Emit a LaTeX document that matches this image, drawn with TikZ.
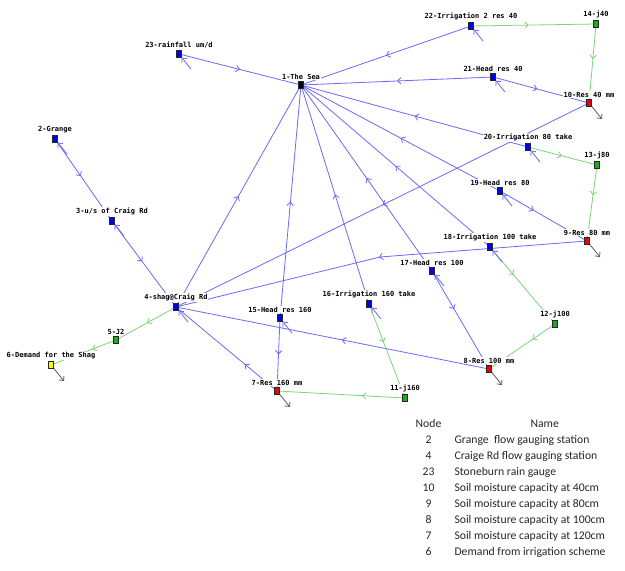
\documentclass[tikz,border=0pt]{standalone}
\usepackage{fontspec}
\setmonofont{DejaVu Sans Mono}
\newfontfamily\legfont{Carlito}
\usetikzlibrary{arrows.meta,decorations.markings,backgrounds,matrix}

\definecolor{linkblue}{RGB}{105,105,250}
\definecolor{linkgreen}{RGB}{120,215,120}
\definecolor{nodeblue}{RGB}{0,0,235}
\definecolor{nodegreen}{RGB}{30,170,30}
\definecolor{nodered}{RGB}{235,0,0}
\definecolor{nodeyellow}{RGB}{255,255,0}

\tikzset{
  site/.style={draw=black!85, line width=0.6pt, inner sep=0pt,
    minimum width=5pt, minimum height=6.5pt, fill=#1},
  site/.default=nodeblue,
  lbl/.style={font=\fontsize{7}{8}\selectfont\ttfamily\bfseries,
    fill=white, inner sep=0.6pt},
  barb/.tip={Straight Barb[length=3.5pt,width=6.5pt]},
  blueflow/.style={linkblue, line width=0.8pt, postaction={decorate},
    decoration={markings, mark=at position #1 with {\arrow{barb}}}},
  blueflow/.default=0.5,
  greenflow/.style={blueflow=#1, linkgreen},
  greenflow/.default=0.5,
  inflow/.style={linkblue, line width=0.8pt, -barb},
  outflow/.style={black!65, line width=0.8pt, -barb}
}

\def\Legend{
    \matrix (legend)
    [matrix of nodes,
    ampersand replacement=\&,
    anchor=north west,
    column sep={12pt},
    row sep={4pt},
    nodes={inner sep=0pt, text height=9pt, text depth=3pt, text=black!85,
      font=\legfont\fontsize{11.7}{14}\selectfont},
    column 1/.style={nodes={anchor=base, minimum width=28pt}},
    column 2/.style={nodes={anchor=base west}}]
    at (411,415)
    {
     Node \& |[xshift=76pt]| Name \\
     2 \& Grange~ flow gauging station \\
     4 \& Craige Rd flow gauging station \\
     23 \& Stoneburn rain gauge \\
     10 \& Soil moisture capacity at 40cm \\
     9 \& Soil moisture capacity at 80cm \\
     8 \& Soil moisture capacity at 100cm \\
     7 \& Soil moisture capacity at 120cm \\
     6 \& Demand from irrigation scheme \\
};
}

\begin{document}
\begin{tikzpicture}[x=1pt, y=-1pt, label distance=1.5pt]
    \useasboundingbox (0,0) rectangle (625,571);

    % sites
    \node[site=black, label={[lbl]above:1-The Sea}] (n1) at (301,85) {};
    \node[site, label={[lbl]above:2-Grange}] (n2) at (55,139) {};
    \node[site, label={[lbl]above:3-u/s of Craig Rd}] (n3) at (112,221) {};
    \node[site, label={[lbl]above:4-shag@Craig Rd}] (n4) at (176,307) {};
    \node[site=nodegreen, label={[lbl]above:5-J2}] (n5) at (116,340) {};
    \node[site=nodeyellow, label={[lbl]above:6-Demand for the Shag}] (n6) at (51,365) {};
    \node[site=nodered, label={[lbl]above:7-Res 160 mm}] (n7) at (277,391) {};
    \node[site=nodered, label={[lbl]above:8-Res 100 mm}] (n8) at (489,369) {};
    \node[site=nodered, label={[lbl]above:9-Res 80 mm}] (n9) at (587,241) {};
    \node[site=nodered, label={[lbl]above:10-Res 40 mm}] (n10) at (589,103) {};
    \node[site=nodegreen, label={[lbl]above:11-j160}] (n11) at (405,398) {};
    \node[site=nodegreen, label={[lbl]above:12-j100}] (n12) at (555,324) {};
    \node[site=nodegreen, label={[lbl]above:13-j80}] (n13) at (597,165) {};
    \node[site=nodegreen, label={[lbl]above:14-j40}] (n14) at (596,24) {};
    \node[site, label={[lbl]above:15-Head res 160}] (n15) at (280,318) {};
    \node[site, label={[lbl]above:16-Irrigation 160 take}] (n16) at (369,304) {};
    \node[site, label={[lbl]above:17-Head res 100}] (n17) at (432,271) {};
    \node[site, label={[lbl]above:18-Irrigation 100 take}] (n18) at (490,247) {};
    \node[site, label={[lbl]above:19-Head res 80}] (n19) at (500,191) {};
    \node[site, label={[lbl]above:20-Irrigation 80 take}] (n20) at (528,147) {};
    \node[site, label={[lbl]above:21-Head res 40}] (n21) at (493,77) {};
    \node[site, label={[lbl]above:22-Irrigation 2 res 40}] (n22) at (471,26) {};
    \node[site, label={[lbl]above:23-rainfall um/d}] (n23) at (179,54) {};
    \coordinate (bend94) at (380,257);

    \Legend

    \begin{pgfonlayer}{background}
    % losses to the sea
    \foreach \n in {23,22,21,20,19,18,17,16,15,4}
        \draw[blueflow] (n\n) -- (n1);

    % river and runoff
    \draw[blueflow=0.45] (n2) -- (n3);
    \draw[blueflow=0.47] (n3) -- (n4);
    \draw[blueflow=0.46] (n21) -- (n10);
    \draw[blueflow] (n10) -- (n4);
    \draw[blueflow=0.38] (n19) -- (n9);
    \draw[blueflow] (n9) -- (bend94) -- (n4);
    \draw[blueflow=0.38] (n17) -- (n8);
    \draw[blueflow=0.47] (n8) -- (n4);
    \draw[blueflow] (n15) -- (n7);
    \draw[blueflow=0.31] (n7) -- (n4);

    % carriers
    \draw[greenflow=0.46] (n22) -- (n14);
    \draw[greenflow=0.44] (n14) -- (n10);
    \draw[greenflow=0.49] (n20) -- (n13);
    \draw[greenflow=0.39] (n13) -- (n9);
    \draw[greenflow=0.35] (n18) -- (n12);
    \draw[greenflow=0.33] (n12) -- (n8);
    \draw[greenflow=0.4] (n16) -- (n11);
    \draw[greenflow=0.33] (n11) -- (n7);
    \draw[greenflow=0.48] (n4) -- (n5);
    \draw[greenflow=0.35] (n5) -- (n6);

    % inflows and outflows
    \foreach \n in {2,3,4,15,16,17,18,19,20,21,22,23} {
        \path (n\n) ++(12,15) coordinate (in\n);
        \draw[inflow] (in\n) -- (n\n);
    }
    \foreach \n in {6,7,8,9,10} {
        \path (n\n) ++(13,16) coordinate (out\n);
        \draw[outflow] (n\n) -- (out\n);
    }
    \end{pgfonlayer}
\end{tikzpicture}
\end{document}
